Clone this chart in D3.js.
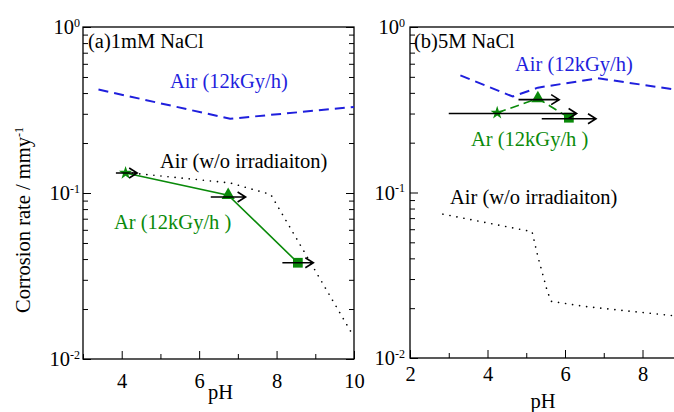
<!DOCTYPE html>
<html>
<head>
<meta charset="utf-8">
<script src="https://cdn.jsdelivr.net/npm/d3@7"></script>
<style>
  body { margin: 0; background: #fff; }
</style>
</head>
<body>
<script>
// Panel (a) 1mM NaCl
var aAirIrrPH   = [3.4, 6.8, 10];
var aAirIrrRate = [0.42, 0.28, 0.33];
var aAirPH      = [4.1, 6.8, 7.85, 9.95];
var aAirRate    = [0.133, 0.115, 0.098, 0.0142];
var aArPH       = [4.1, 6.75, 8.55];
var aArRate     = [0.132, 0.097, 0.038];
var aArrowFrom  = [3.85, 6.3, 8.15];
var aArrowTo    = [4.4, 7.2, 8.95];
var aArrowRate  = [0.132, 0.0946, 0.038];

// Panel (b) 5M NaCl
var bAirIrrPH   = [3.3, 4.65, 5.3, 6.85, 8.8];
var bAirIrrRate = [0.51, 0.38, 0.43, 0.49, 0.42];
var bAirPH      = [2.85, 5.15, 5.3, 5.55, 5.65, 6.5, 8.8];
var bAirRate    = [0.074, 0.058, 0.041, 0.025, 0.022, 0.0205, 0.018];
var bArPH       = [4.25, 5.3, 6.1];
var bArRate     = [0.303, 0.37, 0.283];
var bArrowFrom  = [3.0, 4.8, 5.4];
var bArrowTo    = [6.3, 5.85, 6.8];
var bArrowRate  = [0.30, 0.364, 0.279];

var markerTypes = ['star', 'triangle', 'square'];
var yMajor = [0.01, 0.1, 1];

var width = 674;
var height = 412;
var serif = "'Liberation Serif'";
var blue = '#1f1fdd';
var green = '#0a8a0a';

var svg = d3.select('body')
    .append('svg')
    .attr('width', width)
    .attr('height', height)
    .style('font-family', serif);

function drawPanel(p) {
    var x = d3.scaleLinear().domain(p.xDomain).range([p.left, p.right]);
    var y = d3.scaleLog().domain([0.01, 1]).range([p.bottom, p.top]);

    var g = svg.append('g');

    // clip for the curves
    var clipId = 'clip-' + p.id;
    svg.append('clipPath').attr('id', clipId)
        .append('rect')
        .attr('x', p.left).attr('y', p.top)
        .attr('width', p.right - p.left).attr('height', p.bottom - p.top);

    // minor y tick values
    var yMinor = [];
    [0.01, 0.1].forEach(function(d) {
        for (var k = 2; k <= 9; k++) yMinor.push(d * k);
    });

    // y ticks, both sides, inward
    g.append('g').attr('transform', 'translate(' + p.left + ',0)')
        .call(d3.axisLeft(y).tickValues(yMinor).tickSize(-5).tickFormat(''));
    g.append('g').attr('transform', 'translate(' + p.right + ',0)')
        .call(d3.axisRight(y).tickValues(yMinor).tickSize(-5).tickFormat(''));
    g.append('g').attr('transform', 'translate(' + p.right + ',0)')
        .call(d3.axisRight(y).tickValues(yMajor).tickSize(-8).tickFormat(''));

    var yAxisGroup = g.append('g').attr('transform', 'translate(' + p.left + ',0)')
        .call(d3.axisLeft(y).tickValues(yMajor).tickSize(-8).tickPadding(p.yPad));
    yAxisGroup.selectAll('.tick text').text(null).each(function(d) {
        var t = d3.select(this);
        t.append('tspan').text('10');
        t.append('tspan').attr('dy', '-0.6em').style('font-size', '12px')
            .text(Math.round(Math.log10(d)));
    });

    // x ticks, bottom only (only the ones inside the picture)
    var inView = function(v) { return x(v) <= width; };
    var xMajor = d3.range(Math.ceil(p.xDomain[0] / 2) * 2, p.xDomain[1] + 0.01, 2).filter(inView);
    var xMinor = d3.range(Math.ceil(p.xDomain[0]), p.xDomain[1] + 0.01, 1)
        .filter(function(v) { return v % 2 !== 0; }).filter(inView);
    g.append('g').attr('transform', 'translate(0,' + p.bottom + ')')
        .call(d3.axisBottom(x).tickValues(xMinor).tickSize(-5).tickFormat(''));
    g.append('g').attr('transform', 'translate(0,' + p.bottom + ')')
        .call(d3.axisBottom(x).tickValues(xMajor).tickSize(-8).tickPadding(p.xPad)
            .tickFormat(d3.format('d')));

    g.selectAll('.domain').remove();
    g.selectAll('.tick line').attr('stroke', '#000').attr('stroke-width', 1);
    g.selectAll('g').attr('font-family', null).attr('font-size', null);
    g.selectAll('.tick text')
        .style('font-family', serif)
        .style('font-size', '20.5px')
        .attr('fill', '#000');

    // frame
    g.append('rect')
        .attr('x', p.left).attr('y', p.top)
        .attr('width', p.right - p.left).attr('height', p.bottom - p.top)
        .attr('fill', 'none').attr('stroke', '#000').attr('stroke-width', 1.3);

    var curves = g.append('g').attr('clip-path', 'url(#' + clipId + ')');
    var line = d3.line()
        .x(function(d) { return x(d[0]); })
        .y(function(d) { return y(d[1]); });

    // Air (12kGy/h)
    curves.append('path')
        .attr('d', line(d3.zip(p.airIrrPH, p.airIrrRate)))
        .attr('fill', 'none').attr('stroke', blue)
        .attr('stroke-width', 2).attr('stroke-dasharray', '10,6');

    // Air (w/o irradiation)
    curves.append('path')
        .attr('d', line(d3.zip(p.airPH, p.airRate)))
        .attr('fill', 'none').attr('stroke', '#000')
        .attr('stroke-width', 1.6).attr('stroke-dasharray', '0.1,7')
        .attr('stroke-linecap', 'round');

    // Ar (12kGy/h)
    curves.append('path')
        .attr('d', line(d3.zip(p.arPH, p.arRate)))
        .attr('fill', 'none').attr('stroke', green)
        .attr('stroke-width', 1.6).attr('stroke-dasharray', p.arDash);

    var symbolMap = { star: d3.symbolStar, triangle: d3.symbolTriangle, square: d3.symbolSquare };
    var sizeMap = { star: 55, triangle: 75, square: 95 };
    g.selectAll('.marker-' + p.id)
        .data(d3.zip(p.arPH, p.arRate, markerTypes))
        .enter()
        .append('path')
        .attr('class', 'marker-' + p.id)
        .attr('transform', function(d) { return 'translate(' + x(d[0]) + ',' + y(d[1]) + ')'; })
        .attr('d', function(d) { return d3.symbol().type(symbolMap[d[2]]).size(sizeMap[d[2]])(); })
        .attr('fill', green);

    // pH range arrows
    g.selectAll('.arrow-' + p.id)
        .data(d3.zip(p.arrowFrom, p.arrowTo, p.arrowRate))
        .enter()
        .append('path')
        .attr('class', 'arrow-' + p.id)
        .attr('d', function(d) {
            var x1 = x(d[0]), x2 = x(d[1]), yy = y(d[2]);
            return 'M' + x1 + ',' + yy + 'H' + x2 +
                'M' + (x2 - 8) + ',' + (yy - 5) + 'L' + x2 + ',' + yy + 'L' + (x2 - 8) + ',' + (yy + 5);
        })
        .attr('fill', 'none').attr('stroke', '#000').attr('stroke-width', 1.6);

    // labels
    p.labels.forEach(function(l) {
        svg.append('text')
            .attr('x', l.x).attr('y', l.y)
            .attr('fill', l.color)
            .style('font-family', serif)
            .style('font-size', '20.5px')
            .text(l.text);
    });

    svg.append('text')
        .attr('x', (p.left + p.right) / 2 + p.pHdx)
        .attr('y', p.pHy)
        .attr('text-anchor', 'middle')
        .style('font-family', serif)
        .style('font-size', '20.5px')
        .text('pH');
}

drawPanel({
    id: 'a', left: 83, right: 354, top: 27, bottom: 359, xDomain: [3, 10],
    yPad: 3, xPad: 14.5, pHdx: 2, pHy: 399,
    airIrrPH: aAirIrrPH, airIrrRate: aAirIrrRate,
    airPH: aAirPH, airRate: aAirRate,
    arPH: aArPH, arRate: aArRate, arDash: null,
    arrowFrom: aArrowFrom, arrowTo: aArrowTo, arrowRate: aArrowRate,
    labels: [
        { text: '(a)1mM NaCl', x: 88, y: 48, color: '#000' },
        { text: 'Air (12kGy/h)', x: 170, y: 88, color: blue },
        { text: 'Air (w/o irradiaiton)', x: 160, y: 168, color: '#000' },
        { text: 'Ar (12kGy/h )', x: 114, y: 229, color: green }
    ]
});

drawPanel({
    id: 'b', left: 410, right: 720, top: 27, bottom: 358, xDomain: [2, 10],
    yPad: 5, xPad: 8.5, pHdx: -22, pHy: 408,
    airIrrPH: bAirIrrPH, airIrrRate: bAirIrrRate,
    airPH: bAirPH, airRate: bAirRate,
    arPH: bArPH, arRate: bArRate, arDash: '9,5',
    arrowFrom: bArrowFrom, arrowTo: bArrowTo, arrowRate: bArrowRate,
    labels: [
        { text: '(b)5M NaCl', x: 414, y: 48, color: '#000' },
        { text: 'Air (12kGy/h)', x: 515, y: 71, color: blue },
        { text: 'Ar (12kGy/h )', x: 471, y: 146, color: green },
        { text: 'Air (w/o irradiaiton)', x: 450, y: 204, color: '#000' }
    ]
});

// y axis title
var yTitle = svg.append('text')
    .attr('transform', 'translate(30,220) rotate(-90)')
    .attr('text-anchor', 'middle')
    .style('font-family', serif)
    .style('font-size', '20.5px');
yTitle.append('tspan').text('Corrosion rate / mmy');
yTitle.append('tspan').attr('dy', '-0.6em').style('font-size', '12px').text('-1');
</script>
</body>
</html>
